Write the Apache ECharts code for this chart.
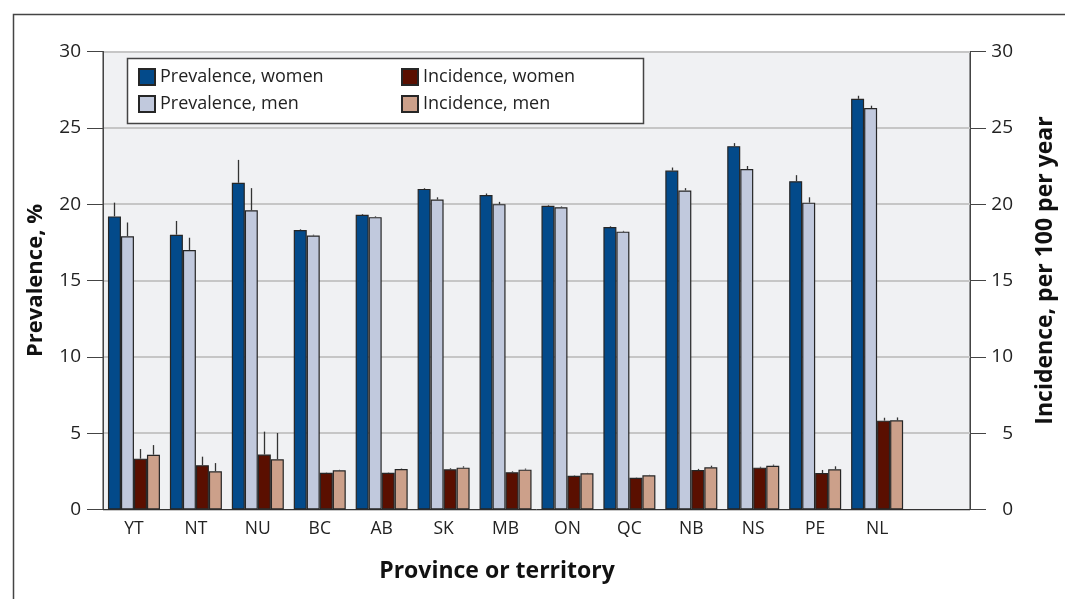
<!DOCTYPE html>
<html>
<head>
<meta charset="utf-8">
<script src="https://cdn.jsdelivr.net/npm/echarts@6/dist/echarts.min.js"></script>
<style>
html,body{margin:0;padding:0;background:#fff;}
#chart{width:1065px;height:599px;}
</style>
</head>
<body>
<div id="chart"></div>
<script>
// ---- data ----
var categories = ['YT','NT','NU','BC','AB','SK','MB','ON','QC','NB','NS','PE','NL',''];
var prevWomen   = [19.2, 18.0, 21.4, 18.3, 19.3, 21.0, 20.6, 19.9, 18.5, 22.2, 23.8, 21.5, 26.9];
var prevWomenHi = [20.1, 18.9, 22.9, 18.35, 19.35, 21.05, 20.7, 19.95, 18.55, 22.4, 24.0, 21.9, 27.1];
var prevMen     = [17.9, 17.0, 19.6, 17.95, 19.15, 20.3, 20.0, 19.8, 18.2, 20.9, 22.3, 20.1, 26.3];
var prevMenHi   = [18.8, 17.8, 21.05, 18.0, 19.2, 20.45, 20.15, 19.85, 18.25, 21.05, 22.5, 20.45, 26.45];
var incWomen    = [3.33, 2.9, 3.6, 2.4, 2.4, 2.63, 2.44, 2.21, 2.08, 2.59, 2.74, 2.39, 5.82];
var incWomenHi  = [3.96, 3.46, 5.1, 2.42, 2.42, 2.7, 2.5, 2.24, 2.1, 2.66, 2.8, 2.59, 6.01];
var incMen      = [3.59, 2.5, 3.29, 2.57, 2.65, 2.74, 2.61, 2.37, 2.24, 2.76, 2.87, 2.63, 5.84];
var incMenHi    = [4.22, 3.04, 5.01, 2.6, 2.68, 2.83, 2.68, 2.4, 2.27, 2.87, 2.94, 2.83, 6.03];
var yTicks = [0, 5, 10, 15, 20, 25, 30];

var names = ['Prevalence, women','Prevalence, men','Incidence, women','Incidence, men'];
var colors = ['#034a8a','#c1c9dd','#5a0f00','#cca08a'];
var FONT = '"Open Sans", "Noto Sans", sans-serif';
var BAR_W = 13;

function barSeries(i, vals, axis) {
  return {
    name: names[i], type: 'bar', yAxisIndex: axis, data: vals,
    barWidth: BAR_W, barGap: '0%',
    itemStyle: { color: colors[i], borderColor: '#262626', borderWidth: 1.2 },
    emphasis: { disabled: true }, z: 3
  };
}
function errSeries(i, vals, his, axis) {
  var data = vals.map(function (v, k) { return [k, v, his[k]]; });
  return {
    type: 'custom', yAxisIndex: axis, data: data, z: 4, silent: true,
    renderItem: function (params, api) {
      var c = api.value(0);
      var p1 = api.coord([c, api.value(1)]);
      var p2 = api.coord([c, api.value(2)]);
      var x = Math.round(p1[0] + (i - 1.5) * BAR_W) + 0.5;
      return {
        type: 'line',
        shape: { x1: x, y1: p1[1], x2: x, y2: p2[1] },
        style: { stroke: '#333', lineWidth: 1.3 }
      };
    }
  };
}

var chart = echarts.init(document.getElementById('chart'));
var axisBase = {
  type: 'value', min: 0, max: 30, interval: 5,
  axisLine: { show: true, lineStyle: { color: '#444', width: 1 } },
  axisTick: { show: true, length: 16, lineStyle: { color: '#444', width: 1 } },
  nameLocation: 'middle'
};
var legendText = { fontFamily: FONT, fontSize: 18, color: '#222' };
chart.setOption({
  animation: false,
  backgroundColor: '#fff',
  grid: { left: 103, right: 95, top: 51.5, bottom: 89.5, show: true,
          backgroundColor: '#f0f1f3', borderColor: '#333', borderWidth: 1 },
  legend: [
    { data: [names[0], names[1]], orient: 'vertical', left: 138, top: 68, padding: 0,
      itemWidth: 16, itemHeight: 16, itemGap: 9, icon: 'rect', selectedMode: false, z: 10,
      textStyle: legendText },
    { data: [names[2], names[3]], orient: 'vertical', left: 401, top: 68, padding: 0,
      itemWidth: 16, itemHeight: 16, itemGap: 9, icon: 'rect', selectedMode: false, z: 10,
      textStyle: legendText }
  ],
  graphic: [
    { type: 'rect', z: -10, silent: true,
      shape: { x: 13.5, y: 14.5, width: 1200, height: 700 },
      style: { fill: null, stroke: '#444', lineWidth: 1.5 } },
    { type: 'rect', z: 8, silent: true,
      shape: { x: 127.5, y: 58.5, width: 516, height: 65 },
      style: { fill: '#fff', stroke: '#444', lineWidth: 1.5 } },
    { type: 'text', z: 10, silent: true, x: 497, y: 571,
      style: { text: 'Province or territory', fontFamily: FONT, fontSize: 23, fontWeight: 'bold',
               fill: '#111', align: 'center', verticalAlign: 'middle' } }
  ],
  xAxis: {
    type: 'category', data: categories,
    axisLine: { show: true, lineStyle: { color: '#333', width: 1 } },
    axisTick: { show: false },
    axisLabel: { fontFamily: FONT, fontSize: 17.5, color: '#222', margin: 11 }
  },
  yAxis: [
    Object.assign({}, axisBase, {
      position: 'left', name: 'Prevalence, %', nameGap: 56,
      nameTextStyle: { fontFamily: FONT, fontSize: 22, fontWeight: 'bold', color: '#111' },
      splitLine: { show: true, lineStyle: { color: '#c6c6c6', width: 2 } },
      axisLabel: { fontFamily: FONT, fontSize: 19, color: '#222', margin: 22,
                   formatter: function (v) { return yTicks.indexOf(v) >= 0 ? String(v) : ''; } }
    }),
    Object.assign({}, axisBase, {
      position: 'right', name: 'Incidence, per 100 per year', nameGap: 64,
      nameTextStyle: { fontFamily: FONT, fontSize: 23, fontWeight: 'bold', color: '#111',
                       padding: [0, 0, 0, 20] },
      splitLine: { show: false },
      axisLabel: { fontFamily: FONT, fontSize: 19, color: '#222', margin: 43, align: 'right',
                   formatter: function (v) { return yTicks.indexOf(v) >= 0 ? String(v) : ''; } }
    })
  ],
  series: [
    barSeries(0, prevWomen, 0),
    barSeries(1, prevMen, 0),
    barSeries(2, incWomen, 1),
    barSeries(3, incMen, 1),
    errSeries(0, prevWomen, prevWomenHi, 0),
    errSeries(1, prevMen, prevMenHi, 0),
    errSeries(2, incWomen, incWomenHi, 1),
    errSeries(3, incMen, incMenHi, 1)
  ]
});
</script>
</body>
</html>
